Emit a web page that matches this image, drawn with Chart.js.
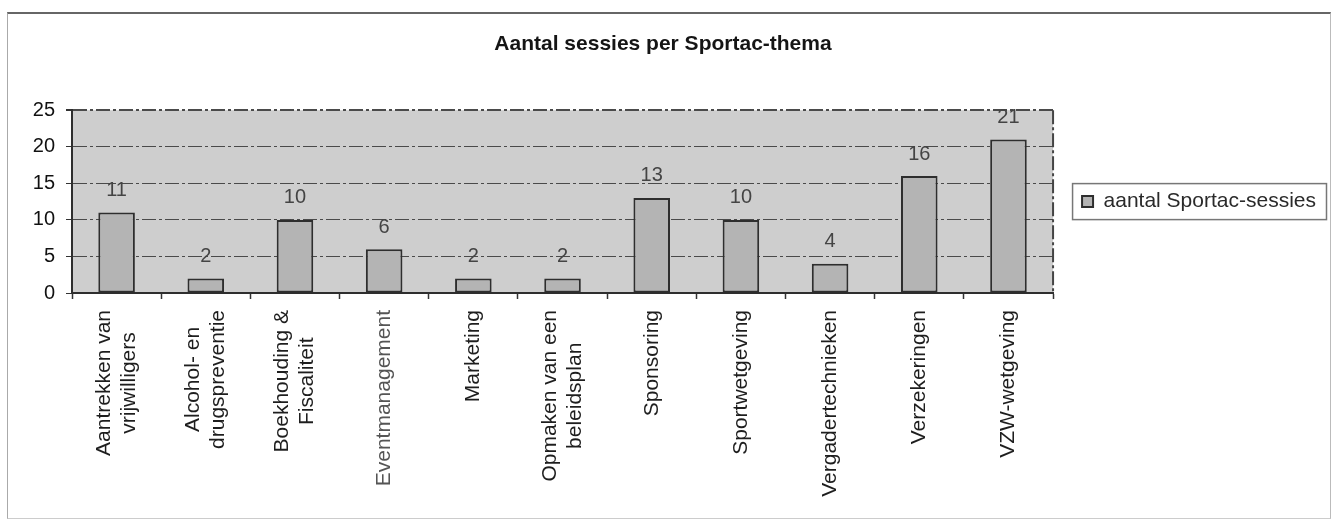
<!DOCTYPE html>
<html lang="nl">
<head>
<meta charset="utf-8">
<title>Aantal sessies per Sportac-thema</title>
<script src="https://cdn.jsdelivr.net/npm/chart.js@4.4.1/dist/chart.umd.min.js"></script>
<style>
    html, body { margin: 0; padding: 0; background: #fff; }
    #wrap { position: relative; width: 1336px; height: 520px; overflow: hidden; }
    #kader {
        position: absolute; left: 7px; top: 12px; width: 1322px; height: 504px;
        border-top: 2px solid #666; border-left: 1px solid #aaa;
        border-right: 1px solid #bbb; border-bottom: 1px solid #ccc;
    }
    #grafiek { position: absolute; left: 0; top: 0; }
</style>
</head>
<body>
<div id="wrap">
    <div id="kader"></div>
    <canvas id="grafiek" width="1336" height="520"></canvas>
</div>
<script>
// Gegevens uit de grafiek
const titel = 'Aantal sessies per Sportac-thema';
const reeksNaam = 'aantal Sportac-sessies';
const themas = [
    ['Aantrekken van', 'vrijwilligers'],
    ['Alcohol- en', 'drugspreventie'],
    ['Boekhouding &', 'Fiscaliteit'],
    'Eventmanagement',
    'Marketing',
    ['Opmaken van een', 'beleidsplan'],
    'Sponsoring',
    'Sportwetgeving',
    'Vergadertechnieken',
    'Verzekeringen',
    'VZW-wetgeving'
];
const aantalSessies = [11, 2, 10, 6, 2, 2, 13, 10, 4, 16, 21];
const yTicks = [0, 5, 10, 15, 20, 25];

const LETTER = "'Liberation Sans', Arial, Helvetica, sans-serif";
const grijsVlak = '#cecece';
const grijsStaaf = '#b4b4b4';
const donker = '#2e2e2e';

// Grijs vlak achter het tekengebied
const achtergrondPlugin = {
    id: 'achtergrond',
    beforeDraw(chart) {
        const { ctx, chartArea: a } = chart;
        ctx.save();
        ctx.fillStyle = grijsVlak;
        ctx.fillRect(a.left, a.top, a.right - a.left, a.bottom - a.top);
        ctx.restore();
    }
};

// Waarden boven de staven + rechterrand van het vlak
const waardenPlugin = {
    id: 'waarden',
    afterDatasetsDraw(chart) {
        const { ctx, chartArea: a } = chart;
        ctx.save();
        ctx.strokeStyle = '#444';
        ctx.lineWidth = 2;
        ctx.setLineDash([14, 3, 3, 3]);
        ctx.beginPath();
        ctx.moveTo(a.right, a.top);
        ctx.lineTo(a.right, a.bottom);
        ctx.stroke();
        ctx.setLineDash([]);

        const meta = chart.getDatasetMeta(0);
        ctx.font = '20px ' + LETTER;
        ctx.fillStyle = '#444';
        ctx.textAlign = 'center';
        ctx.textBaseline = 'middle';
        meta.data.forEach((bar, i) => {
            ctx.fillText(String(aantalSessies[i]), bar.x, bar.y - 22);
        });
        ctx.restore();
    }
};

// Categorielabels verticaal, regels gecentreerd zoals in Excel
const labelsPlugin = {
    id: 'xlabels',
    afterDraw(chart) {
        const { ctx } = chart;
        const xAs = chart.scales.x;
        const lijnHoogte = 25;
        ctx.save();
        ctx.font = '21px ' + LETTER;
        ctx.textAlign = 'center';
        ctx.textBaseline = 'middle';
        chart.data.labels.forEach((label, i) => {
            const regels = Array.isArray(label) ? label : [label];
            const maxW = Math.max(...regels.map(r => ctx.measureText(r).width));
            const x = xAs.getPixelForTick(i);
            const y = xAs.top + 17 + maxW / 2;
            ctx.save();
            ctx.translate(x, y);
            ctx.rotate(-Math.PI / 2);
            ctx.fillStyle = label === 'Eventmanagement' ? '#555' : '#1e1e1e';
            regels.forEach((r, j) => {
                ctx.fillText(r, 0, (j - (regels.length - 1) / 2) * lijnHoogte);
            });
            ctx.restore();
        });

        // Kader rond de legende
        const lg = chart.legend;
        if (lg && lg.legendHitBoxes && lg.legendHitBoxes.length) {
            const hb = lg.legendHitBoxes[0];
            ctx.strokeStyle = '#777';
            ctx.lineWidth = 1.5;
            ctx.strokeRect(hb.left - 9.5, hb.top - 7.5, hb.width + 20, hb.height + 15);
        }
        ctx.restore();
    }
};

const grafiek = new Chart(document.getElementById('grafiek'), {
    type: 'bar',
    data: {
        labels: themas,
        datasets: [{
            label: reeksNaam,
            data: aantalSessies,
            backgroundColor: grijsStaaf,
            borderColor: donker,
            borderWidth: 2,
            borderSkipped: false,
            barPercentage: 0.41,
            categoryPercentage: 1
        }]
    },
    options: {
        responsive: false,
        animation: false,
        devicePixelRatio: 1,
        layout: { padding: { left: 0, right: 10, top: 0, bottom: 0 } },
        plugins: {
            title: {
                display: true,
                text: titel,
                color: '#151515',
                font: { family: LETTER, size: 21, weight: 'bold', lineHeight: 1.2 },
                padding: { top: 32, bottom: 53 }
            },
            legend: {
                display: true,
                position: 'right',
                fullSize: false,
                labels: {
                    color: '#2a2a2a',
                    font: { family: LETTER, size: 21 },
                    boxWidth: 11,
                    boxHeight: 11,
                    padding: 29
                }
            },
            tooltip: { enabled: false }
        },
        scales: {
            x: {
                offset: true,
                grid: {
                    offset: true,
                    drawOnChartArea: false,
                    drawTicks: true,
                    tickLength: 6,
                    tickColor: '#333',
                    tickWidth: 1.5
                },
                border: { display: true, color: donker, width: 2 },
                ticks: { display: false },
                afterFit: s => { s.height = 227; }
            },
            y: {
                min: yTicks[0],
                max: yTicks[yTicks.length - 1],
                ticks: {
                    stepSize: yTicks[1] - yTicks[0],
                    color: '#111',
                    font: { family: LETTER, size: 20 },
                    padding: 11
                },
                grid: {
                    color: '#4a4a4a',
                    lineWidth: c => (c.tick && c.tick.value === 25 ? 2 : 1),
                    tickLength: 6,
                    tickColor: '#333',
                    tickBorderDash: []
                },
                border: { display: true, color: donker, width: 2, dash: [14, 3, 3, 3] },
                afterFit: s => { s.width = 72; }
            }
        }
    },
    plugins: [achtergrondPlugin, waardenPlugin, labelsPlugin]
});

console.log('chartArea', grafiek.chartArea, 'legend', grafiek.legend.left, grafiek.legend.legendHitBoxes);
</script>
</body>
</html>
